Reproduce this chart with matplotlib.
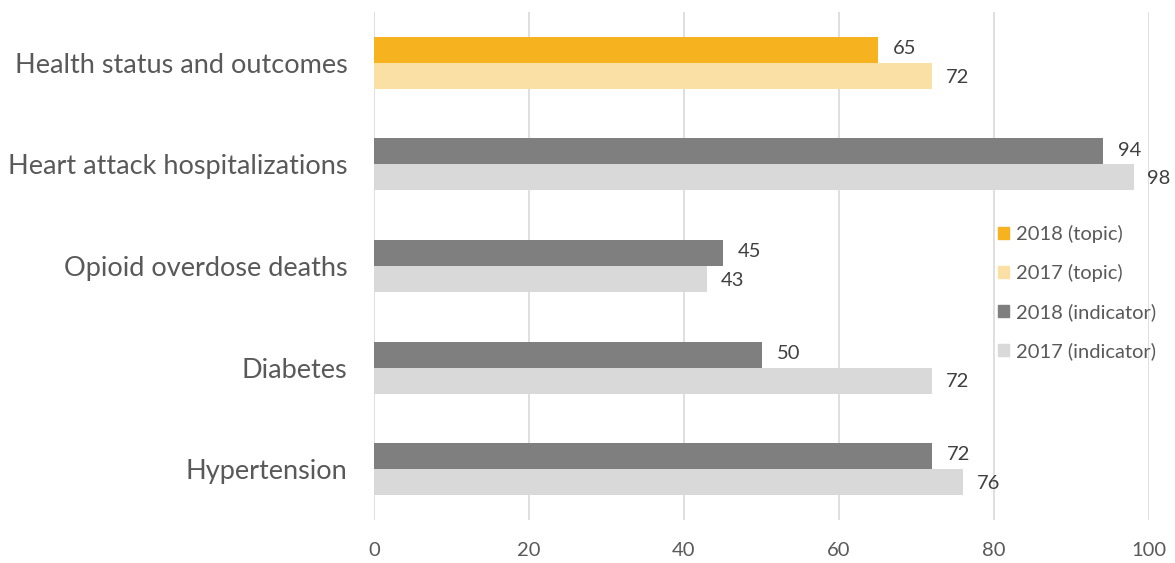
import numpy as np
import matplotlib
matplotlib.use("Agg")
import matplotlib.pyplot as plt
from matplotlib.patches import Patch

plt.rcParams["font.family"] = ["Lato", "DejaVu Sans"]

categories = ["Health status and outcomes", "Heart attack hospitalizations",
              "Opioid overdose deaths", "Diabetes", "Hypertension"]
vals_2018 = [65, 94, 45, 50, 72]
vals_2017 = [72, 98, 43, 72, 76]
is_topic = [True, False, False, False, False]
xticks = [0, 20, 40, 60, 80, 100]

TXT = "#595959"
C18_TOPIC = "#F7B220"
C17_TOPIC = "#FBE0A6"
C18_IND = "#7F7F7F"
C17_IND = "#D9D9D9"

fig = plt.figure(figsize=(11.75, 5.63), dpi=100)
ax = fig.add_axes([374 / 1175, 1 - 520 / 563, 775 / 1175, 508 / 563])

h = 0.255
y = np.arange(len(categories))[::-1]
for i, cat in enumerate(categories):
    c18 = C18_TOPIC if is_topic[i] else C18_IND
    c17 = C17_TOPIC if is_topic[i] else C17_IND
    ax.barh(y[i] + h / 2, vals_2018[i], height=h, color=c18, zorder=3)
    ax.barh(y[i] - h / 2, vals_2017[i], height=h, color=c17, zorder=3)
    ax.annotate(str(vals_2018[i]), (vals_2018[i], y[i] + h / 2), xytext=(11, 1),
                textcoords="offset points", ha="left", va="center",
                fontsize=14.5, color="#404040", annotation_clip=False)
    ax.annotate(str(vals_2017[i]), (vals_2017[i], y[i] - h / 2), xytext=(10, -1),
                textcoords="offset points", ha="left", va="center",
                fontsize=14.5, color="#404040", annotation_clip=False)

ax.set_xlim(0, 100)
ax.set_ylim(-0.5, len(categories) - 0.5)
ax.set_xticks(xticks)
ax.set_yticks(y)
ax.set_yticklabels(categories, fontsize=19.5, color=TXT)
ax.tick_params(axis="x", length=0, labelsize=14.5, labelcolor=TXT, pad=16)
ax.tick_params(axis="y", length=0, pad=19)
ax.grid(axis="x", color="#D9D9D9", linewidth=1.2, zorder=0)
for s in ax.spines.values():
    s.set_visible(False)

handles = [Patch(color=C18_TOPIC), Patch(color=C17_TOPIC),
           Patch(color=C18_IND), Patch(color=C17_IND)]
labels = ["2018 (topic)", "2017 (topic)", "2018 (indicator)", "2017 (indicator)"]
leg = fig.legend(handles, labels, loc="upper left", bbox_to_anchor=(990 / 1175, 1 - 217 / 563),
                 frameon=False, fontsize=14.5, handlelength=0.55, handleheight=0.55,
                 handletextpad=0.35, labelspacing=1.05, borderaxespad=0)
for t in leg.get_texts():
    t.set_color(TXT)

fig.savefig("out.png", dpi=100)
